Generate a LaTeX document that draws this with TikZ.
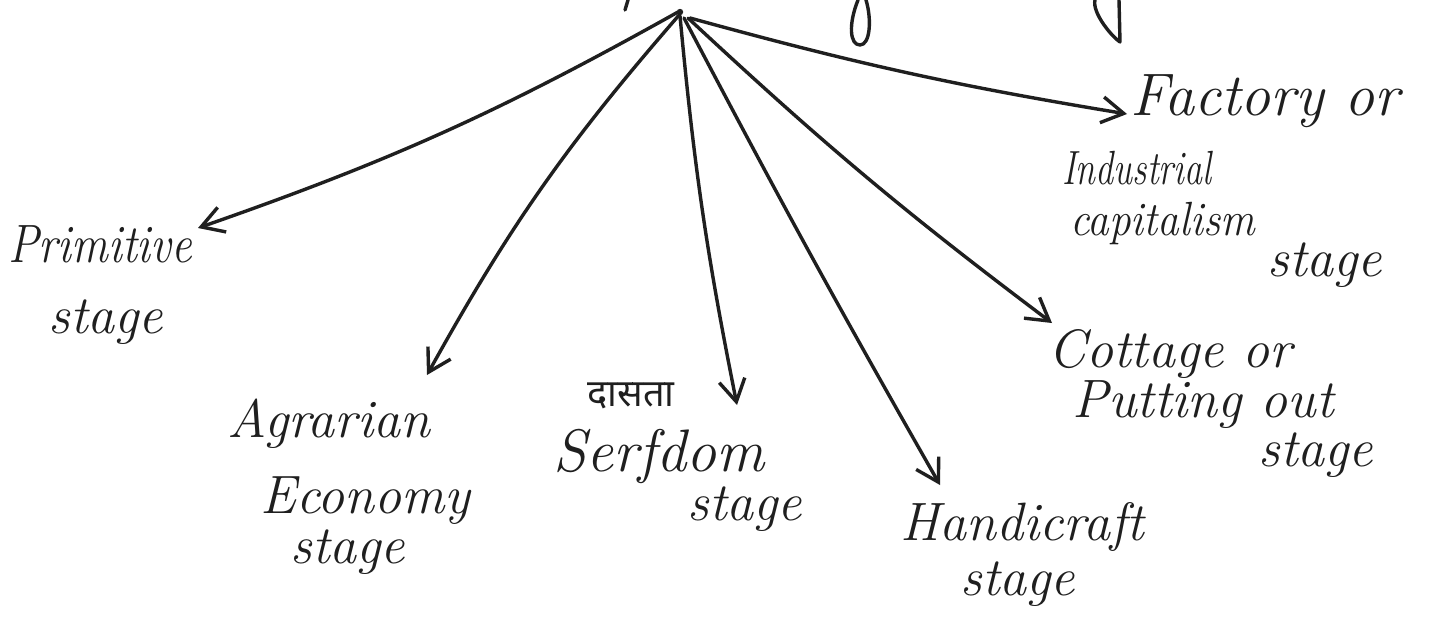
\documentclass[tikz,border=0pt]{standalone}
\usepackage{graphicx}
\usepackage{fontspec}
\newfontfamily\devafont[Script=Devanagari]{Noto Sans}
\usetikzlibrary{arrows.meta}

\begin{document}
\begin{tikzpicture}[x=0.5pt,y=-0.5pt,
  ink/.style={draw=black!88, line width=1.7pt, line cap=round, line join=round},
  arr/.style={ink, -{Straight Barb[length=11pt,width=13pt]}},
  lbl/.style={anchor=base west, inner sep=0pt, text=black!88,
    font=\fontsize{27}{30}\selectfont\itshape},
  sized/.style={lbl, font=\fontsize{#1}{#1}\selectfont\itshape},
  deva/.style={anchor=base west, inner sep=0pt, text=black!88,
    font=\devafont\fontsize{19}{21}\selectfont}]

% paper
\fill[white] (0,0) rectangle (1433,643);
\useasboundingbox (0,0) rectangle (1433,643);

% descenders of the heading line above the page edge
\draw[ink] (628,0) -- (625,10);
\draw[ink] (858,0) .. controls (848,25) and (850,45) .. (860,45)
                   .. controls (870,45) and (872,20) .. (866,0);
\draw[ink] (1095,0) .. controls (1092,12) and (1110,35) .. (1120,42) -- (1119,0);

% common origin of all branches
\coordinate (root) at (680,12);
\fill[black!88] (root) circle (1.6pt);

% arrow tips
\coordinate (tPrim) at (198,228);
\coordinate (tAgr)  at (427,375);
\coordinate (tSerf) at (737,405);
\coordinate (tHand) at (940,485);
\coordinate (tCott) at (1052,323);
\coordinate (tFact) at (1127,114);

% labels
\node[lbl] (prim1) at (8,262)   {\scalebox{0.85}[1]{Primitive}};
\node[lbl] (prim2) at (48,333)  {stage};

\node[lbl] (agr1) at (227,437) {Agrarian};
\node[lbl] (agr2) at (260,513) {Economy};
\node[lbl] (agr3) at (290,563) {stage};

\node[deva] (serf0) at (587,406) {दासता};
\node[sized=30] (serf1) at (553,471) {Serfdom};
\node[lbl] (serf2) at (687,520) {stage};

\node[lbl] (hand1) at (900,540) {Handicraft};
\node[lbl] (hand2) at (960,595) {stage};

\node[lbl] (cott1) at (1048,367) {Cottage or};
\node[lbl] (cott2) at (1072,417) {Putting out};
\node[lbl] (cott3) at (1258,466) {stage};

\node[sized=30] (fact1) at (1130,115) {Factory or};
\node[sized=24] (fact2) at (1062,184) {\scalebox{0.75}[1]{Industrial}};
\node[sized=24] (fact3) at (1070,235) {\scalebox{0.9}[1]{capitalism}};
\node[lbl] (fact4) at (1267,276) {stage};

% branches
\draw[arr] ([xshift=-1pt]root) to[bend left=5]  (tPrim);
\draw[arr] ([yshift=-1pt]root) to[bend right=6] (tAgr);
\draw[arr] ([yshift=-2pt]root) to[bend right=3] (tSerf);
\draw[arr] ([xshift=2pt,yshift=-3pt]root) to[bend right=1] (tHand);
\draw[arr] ([xshift=4pt,yshift=-3pt]root) to[bend right=3] (tCott);
\draw[arr] ([xshift=5pt,yshift=-3pt]root) to[bend right=3] (tFact);
\end{tikzpicture}
\end{document}
